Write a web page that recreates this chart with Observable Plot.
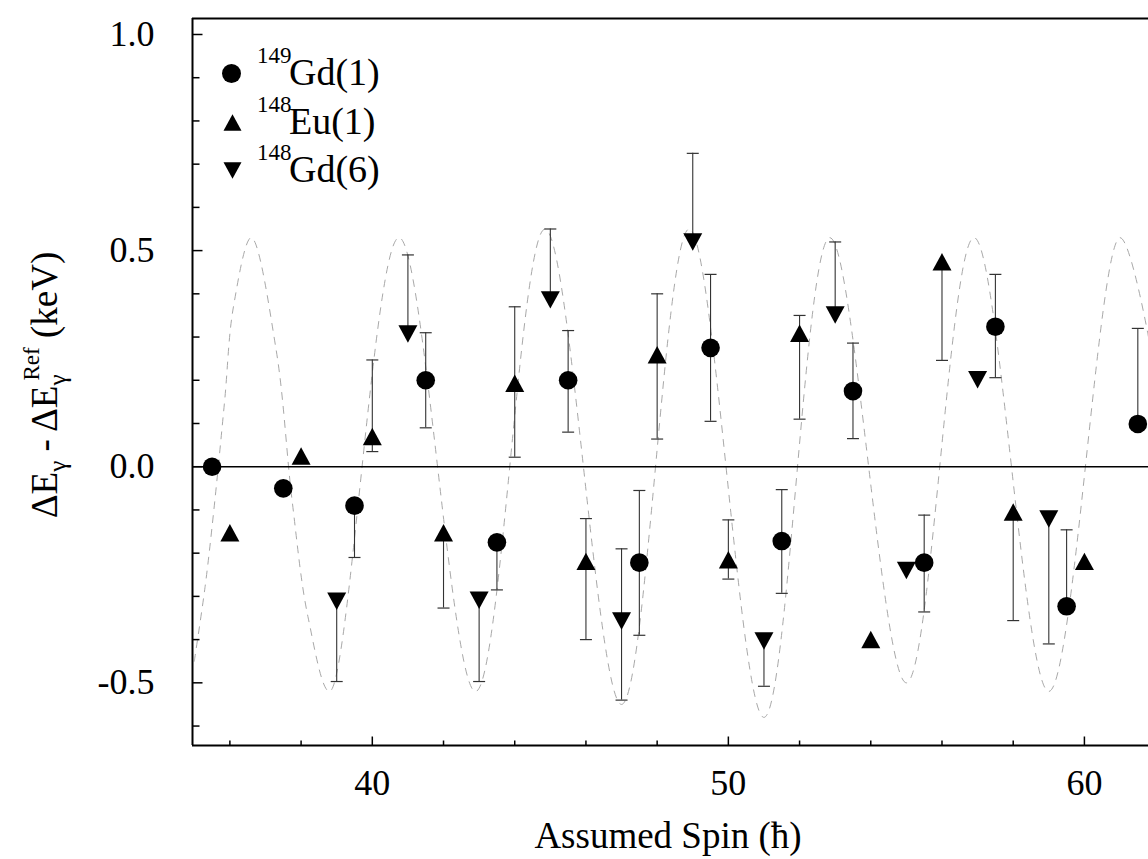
<!DOCTYPE html>
<html><head><meta charset="utf-8">
<script src="https://cdn.jsdelivr.net/npm/d3@7"></script>
<script src="https://cdn.jsdelivr.net/npm/@observablehq/plot@0.6"></script>
<style>
html,body{margin:0;padding:0;background:#fff;}
#chart svg{display:block;}
</style></head><body><div id="chart"></div>
<script>
// ---- data ----
const gd149Spin = [35.5, 37.5, 39.5, 41.5, 43.5, 45.5, 47.5, 49.5, 51.5, 53.5, 55.5, 57.5, 59.5, 61.5];
const gd149Val  = [0.00, -0.05, -0.09, 0.20, -0.175, 0.20, -0.222, 0.275, -0.172, 0.175, -0.222, 0.324, -0.323, 0.099];
const gd149Lo   = [null, null, -0.21, 0.09, -0.285, 0.08, -0.39, 0.105, -0.293, 0.065, -0.336, 0.206, -0.323, 0.099];
const gd149Hi   = [null, null, -0.09, 0.31, -0.175, 0.315, -0.055, 0.445, -0.053, 0.286, -0.112, 0.445, -0.146, 0.32];

const eu148Spin = [36, 38, 40, 42, 44, 46, 48, 50, 52, 54, 56, 58, 60];
const eu148Val  = [-0.153, 0.025, 0.07, -0.153, 0.193, -0.219, 0.259, -0.215, 0.309, -0.40, 0.474, -0.105, -0.219];
const eu148Lo   = [null, null, 0.035, -0.327, 0.022, -0.40, 0.064, -0.26, 0.11, null, 0.246, -0.356, null];
const eu148Hi   = [null, null, 0.247, -0.153, 0.37, -0.12, 0.40, -0.123, 0.35, null, 0.474, -0.105, null];

const gd148Spin = [39, 41, 43, 45, 47, 49, 51, 53, 55, 57, 59];
const gd148Val  = [-0.311, 0.307, -0.309, 0.386, -0.357, 0.52, -0.403, 0.351, -0.24, 0.201, -0.121];
const gd148Lo   = [-0.497, 0.307, -0.497, 0.386, -0.54, 0.52, -0.508, 0.351, null, null, -0.41];
const gd148Hi   = [-0.311, 0.49, -0.309, 0.55, -0.19, 0.725, -0.403, 0.52, null, null, -0.121];

// faint dashed curve (anchor points)
const arcSpin = [35.0, 35.3, 35.55, 35.85, 36.1, 36.6, 37.3, 37.75, 38.2, 38.8, 40.75, 42.9, 44.85, 47.0, 48.9, 51.0, 52.85, 55.0, 56.9, 59.0, 61.0, 61.8];
const arcVal  = [-0.45, -0.28, -0.10, 0.15, 0.37, 0.53, 0.27, -0.08, -0.35, -0.52, 0.53, -0.52, 0.55, -0.55, 0.55, -0.58, 0.53, -0.5, 0.53, -0.52, 0.53, 0.3];

const xDomain = [34.95, 61.8];
const yDomain = [-0.645, 1.037];
const xMajorTicks = [40, 50, 60];
const xMinorTicks = [36, 38, 42, 44, 46, 48, 52, 54, 56, 58];
const yMajorTicks = [-0.5, 0.0, 0.5, 1.0];
const yMinorTicks = [-0.6, -0.4, -0.3, -0.2, -0.1, 0.1, 0.2, 0.3, 0.4, 0.6, 0.7, 0.8, 0.9];

const legendLabels = [
  {mass: "149", name: "Gd(1)"},
  {mass: "148", name: "Eu(1)"},
  {mass: "148", name: "Gd(6)"}
];

// ---- build tables ----
function rows(spin, val, lo, hi) {
  return spin.map((s, i) => ({spin: s, val: val[i], lo: lo[i], hi: hi[i]}));
}
const gd149 = rows(gd149Spin, gd149Val, gd149Lo, gd149Hi);
const eu148 = rows(eu148Spin, eu148Val, eu148Lo, eu148Hi);
const gd148 = rows(gd148Spin, gd148Val, gd148Lo, gd148Hi);
const all = [...gd149, ...eu148, ...gd148];
const bars = all.filter(d => d.lo != null && d.hi != null);
const caps = [];
bars.forEach(d => {
  if (d.lo < d.val) caps.push({spin: d.spin, v: d.lo});
  if (d.hi > d.val) caps.push({spin: d.spin, v: d.hi});
});
const arc = arcSpin.map((s, i) => ({spin: s, val: arcVal[i]}));

// ---- symbols ----
const upTri = {draw(ctx, size) { const r = Math.sqrt(size / Math.PI), h = r * 0.92; ctx.moveTo(0, -h); ctx.lineTo(r, h); ctx.lineTo(-r, h); ctx.closePath(); }};
const downTri = {draw(ctx, size) { const r = Math.sqrt(size / Math.PI), h = r * 0.92; ctx.moveTo(0, h); ctx.lineTo(r, -h); ctx.lineTo(-r, -h); ctx.closePath(); }};
const hCap = {draw(ctx, size) { const r = Math.sqrt(size / Math.PI); ctx.moveTo(-r, 0); ctx.lineTo(r, 0); }};
const tickUp = {draw(ctx, size) { const r = Math.sqrt(size / Math.PI); ctx.moveTo(0, 0); ctx.lineTo(0, -r); }};
const tickRight = {draw(ctx, size) { const r = Math.sqrt(size / Math.PI); ctx.moveTo(0, 0); ctx.lineTo(r, 0); }};

const FONT = "'Liberation Serif', 'Times New Roman', 'DejaVu Serif', serif";

const chart = Plot.plot({
  width: 1148,
  height: 859,
  marginLeft: 192,
  marginRight: 0,
  marginTop: 18,
  marginBottom: 114,
  style: {fontFamily: FONT, fontSize: "35px", background: "#fff", color: "#000"},
  x: {domain: xDomain, label: null},
  y: {domain: yDomain, label: null},
  marks: [
    // faint curve
    Plot.line(arc, {x: "spin", y: "val", curve: "catmull-rom", stroke: "#a8a8a8", strokeWidth: 1, strokeDasharray: "7,7", clip: true}),
    // zero line
    Plot.ruleY([0], {stroke: "#000", strokeWidth: 1.6}),
    // frame (left, top, bottom)
    Plot.ruleX([xDomain[0]], {stroke: "#000", strokeWidth: 2}),
    Plot.ruleY([yDomain[0], yDomain[1]], {stroke: "#000", strokeWidth: 2}),
    // inward ticks
    Plot.dot(xMajorTicks, {x: d => d, frameAnchor: "bottom", symbol: tickUp, r: 9, fill: "none", stroke: "#000", strokeWidth: 1.5}),
    Plot.dot(xMinorTicks, {x: d => d, frameAnchor: "bottom", symbol: tickUp, r: 5, fill: "none", stroke: "#000", strokeWidth: 1.5}),
    Plot.dot(yMajorTicks, {y: d => d, frameAnchor: "left", symbol: tickRight, r: 10, fill: "none", stroke: "#000", strokeWidth: 1.5}),
    Plot.dot(yMinorTicks, {y: d => d, frameAnchor: "left", symbol: tickRight, r: 7, fill: "none", stroke: "#000", strokeWidth: 1.5}),
    // axis labels
    Plot.axisX({ticks: xMajorTicks, tickSize: 0, tickPadding: 24, fontSize: 36, fontFamily: FONT, tickFormat: d => String(d)}),
    Plot.axisY({ticks: yMajorTicks, tickSize: 0, tickPadding: 38, fontSize: 36, fontFamily: FONT, tickFormat: d => d.toFixed(1)}),
    // error bars
    Plot.ruleX(bars, {x: "spin", y1: "lo", y2: "hi", stroke: "#333", strokeWidth: 1.1}),
    Plot.dot(caps, {x: "spin", y: "v", symbol: hCap, r: 6, fill: "none", stroke: "#333", strokeWidth: 1.2}),
    // markers
    Plot.dot(gd149, {x: "spin", y: "val", r: 9.3, fill: "#000", stroke: "none"}),
    Plot.dot(eu148, {x: "spin", y: "val", symbol: upTri, r: 9.5, fill: "#000", stroke: "none"}),
    Plot.dot(gd148, {x: "spin", y: "val", symbol: downTri, r: 9.5, fill: "#000", stroke: "none"}),
    // legend markers
    Plot.dot([0], {frameAnchor: "top-left", dx: 39, dy: 55, r: 9.5, fill: "#000", stroke: "none"}),
    Plot.dot([0], {frameAnchor: "top-left", dx: 40, dy: 104, symbol: upTri, r: 9, fill: "#000", stroke: "none"}),
    Plot.dot([0], {frameAnchor: "top-left", dx: 40, dy: 152, symbol: downTri, r: 9, fill: "#000", stroke: "none"})
  ]
});

document.getElementById("chart").appendChild(chart);

const svg = d3.select(chart);
// legend texts
const legendY = [73, 122, 170];
legendLabels.forEach((d, i) => {
  const t = svg.append("text").attr("font-family", FONT).attr("fill", "#000").attr("text-anchor", "start");
  t.append("tspan").attr("x", 257).attr("y", legendY[i] - 10).attr("font-size", 23).text(d.mass);
  t.append("tspan").attr("x", 289).attr("y", legendY[i] + 12).attr("font-size", 38).text(d.name);
});

// x-axis title
svg.append("text")
  .attr("x", 668).attr("y", 848)
  .attr("text-anchor", "middle")
  .attr("font-family", FONT).attr("font-size", 37)
  .text("Assumed Spin (\u0127)");

// y-axis title
const yt = svg.append("text")
  .attr("transform", "translate(57,385) rotate(-90)")
  .attr("text-anchor", "middle")
  .attr("font-family", FONT).attr("font-size", 37);
yt.append("tspan").text("\u0394E");
yt.append("tspan").attr("font-size", 25).attr("dy", 9).text("\u03b3");
yt.append("tspan").attr("dy", -9).text(" - \u0394E");
yt.append("tspan").attr("font-size", 25).attr("dy", 9).text("\u03b3");
yt.append("tspan").attr("font-size", 23).attr("dx", -6).attr("dy", -27).text("Ref");
yt.append("tspan").attr("dy", 18).text(" (keV)");
</script>
</body></html>
